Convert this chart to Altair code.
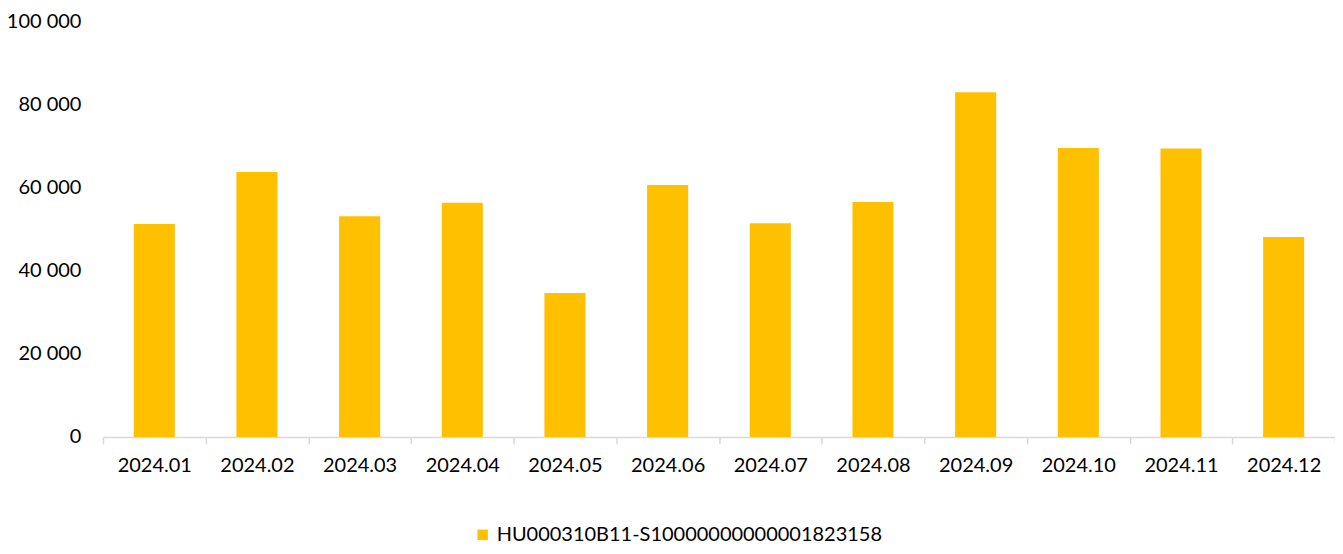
import altair as alt
import pandas as pd

months = ["2024.01", "2024.02", "2024.03", "2024.04", "2024.05", "2024.06",
          "2024.07", "2024.08", "2024.09", "2024.10", "2024.11", "2024.12"]
values = [51200, 63700, 53100, 56300, 34600, 60600,
          51400, 56500, 82900, 69500, 69400, 48100]
series_name = "HU000310B11-S10000000000001823158"

df = pd.DataFrame({"month": months, "value": values, "series": [series_name] * len(months)})

FONT = "Lato"
FS = 20

chart = alt.Chart(df).mark_bar(color="#FFC000", width=alt.RelativeBandSize(0.4)).encode(
    x=alt.X("month:N", sort=months, title=None,
            scale=alt.Scale(paddingInner=0, paddingOuter=0),
            axis=alt.Axis(labelAngle=0, tickBand="extent", domainColor="#D9D9D9",
                          tickColor="#D9D9D9", tickSize=7, labelPadding=12,
                          labelFont=FONT, labelFontSize=FS, labelColor="#000000",
                          domainWidth=1.5, tickWidth=1.5)),
    y=alt.Y("value:Q", title=None,
            scale=alt.Scale(domain=[0, 100000], nice=False),
            axis=alt.Axis(values=[0, 20000, 40000, 60000, 80000, 100000],
                          labelExpr="replace(format(datum.value, ','), ',', ' ')",
                          grid=False, domain=False, ticks=False, labelPadding=22,
                          labelFont=FONT, labelFontSize=FS, labelColor="#000000")),
    color=alt.Color("series:N", scale=alt.Scale(range=["#FFC000"]),
                    legend=alt.Legend(title=None, orient="none", legendX=370, legendY=504,
                                      symbolType="square", symbolSize=110, labelLimit=0,
                                      labelFont=FONT, labelFontSize=FS, labelColor="#000000",
                                      symbolStrokeWidth=0)),
).properties(
    width=1233, height=416,
    background="#FFFFFF",
    autosize=alt.AutoSizeParams(type="none"),
    padding={"left": 95, "top": 13, "right": 0, "bottom": 109},
).configure_view(strokeWidth=0, stroke=None)

chart.save("out.html", embed_options={"renderer": "svg", "actions": False})
